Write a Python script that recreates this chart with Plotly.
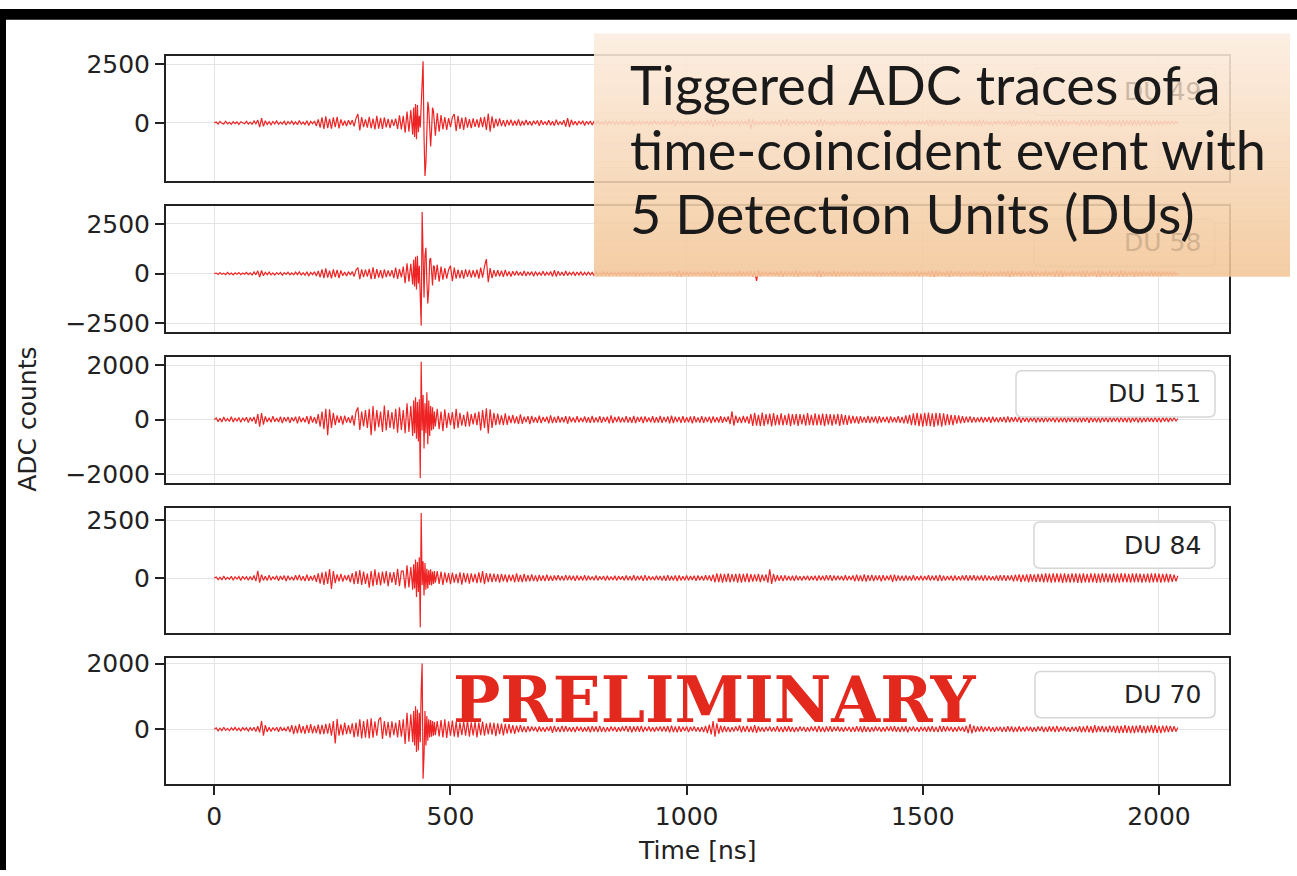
import numpy as np
import plotly.graph_objects as go

W, H = 1297, 876

# ---------------------------------------------------------------------------
# Data: ADC counts per detection unit.
# Samples are on a 4 ns grid before/after the pulse and a 2 ns grid around it.
# ---------------------------------------------------------------------------
PRE_START, PRE_STEP = 0, 4
PULSE_START, PULSE_STEP = 420, 2
POST_START, POST_STEP = 472, 4

du_labels = ["DU 49", "DU 58", "DU 151", "DU 84", "DU 70"]
y_ranges = [[-2490, 2855], [-2920, 3410], [-2340, 2300], [-2372, 3037], [-1667, 2159]]
y_ticks = [[0, 2500], [-2500, 0, 2500], [-2000, 0, 2000], [0, 2500], [0, 2000]]
x_ticks = [0, 500, 1000, 1500, 2000]
x_range = [-102.3, 2148.3]

du49_pre = [
    0, 35, -50, 60, -20, -45, 70, -40, 25, -65, 55, -30, 40, -70, 50, -15, -40, 65, -55, 30,
    -60, 80, -40, 120, -180, 200, -150, 90, -70, 50, -80, 60, -45, 85, -60, 30, -50, 70, -90, 55,
    -40, 75, -65, 45, -80, 100, -60, 35, -70, 90, -110, 60, -40, 80, -130, 150, -200, 240, -260, 280,
    -220, 170, -250, 230, -180, 260, -240, 150, -120, 90, -140, 110, -80, 120, -150, 200, 380, -320, 250, -180,
    150, -200, 260, -230, 180, -280, 300, -250, 210, -260, 240, -190, 170, -220, 150, -130, 180, -260, 320, -280,
    300, -420, 480, -380, 550]
du49_pulse = [
    -500, 650, -600, 800, -700, 760, -400, 300, -200, 750,
    1400, 2625, -600, -2260, -1700, 300, 900, 600, -700, -1010,
    -300, 650, 500, -350, -550]
du49_post = [
    420, -380, 330, -280, 250, -300, 200, -180, 240, 380, -350, 300, -260, 220, -300, 250, -200, 160, -220, 190,
    -170, 150, -200, 230, -180, 260, -300, 400, -380, 280, -220, 170, -150, 190, -140, 120, -160, 130, -100, 140,
    -120, 90, -110, 150, -130, 80, -100, 120, -90, 70, -110, 90, -60, 100, -130, 110, -80, 60, -90, 110,
    -100, 70, -120, 140, -90, 60, -80, 110, -160, 200, -180, 130, -90, 70, -100, 80, -60, 90, -110, 70,
    -50, 80, -90, 60, -70, 100, -80, 50, -60, 90, -100, 70, -40, 80, -90, 60, -70, 50, -80, 90,
    -60, 40, -70, 100, -120, 80, -50, 70, -90, 60, -40, 80, -100, 70, -60, 90, -80, 50, -70, 60,
    -90, 110, -70, 50, -80, 120, -140, 90, -60, 80, -110, 70, -50, 90, -100, 60, -80, 70, -60, 90,
    -80, 60, -100, 120, -90, 140, -170, 150, -120, 80, -60, 90, -110, 70, -50, 80, -90, 60, -70, 100,
    -120, 90, -60, 80, -100, 180, -260, 150, -110, 70, -90, 60, -80, 100, -70, 50, -90, 80, -60, 70,
    -80, 110, -140, 120, -90, 160, -130, 100, -70, 90, -110, 80, -60, 70, -100, 90, -50, 80, -70, 60,
    -90, 120, -150, 170, -140, 110, -80, 60, -100, 90, -120, 100, -70, 80, -60, 90, -110, 130, -100, 70,
    -80, 60, -90, 110, -130, 120, -100, 80, -60, 90, -70, 50, -80, 100, -90, 60, -70, 80, -100, 90,
    -60, 70, -110, 90, -70, 50, -80, 100, -120, 110, -90, 70, -60, 80, -100, 90, -70, 60, -80, 110,
    -130, 150, -140, 120, -100, 80, -90, 110, -130, 120, -80, 60, -90, 100, -70, 80, -110, 90, -60, 70,
    -100, 90, -80, 100, -110, 90, -120, 140, -130, 110, -80, 70, -90, 60, -100, 80, -70, 90, -60, 80,
    -90, 80, -100, 120, -140, 130, -110, 90, -80, 100, -70, 60, -90, 110, -120, 100, -80, 70, -60, 90,
    -120, 110, -90, 80, -100, 120, -130, 110, -140, 150, -130, 120, -100, 90, -110, 80, -70, 100, -90, 60,
    -130, 120, -100, 90, -110, 130, -150, 140, -120, 110, -100, 120, -90, 80, -110, 130, -140, 120, -100, 90,
    -100, 120, -140, 130, -110, 100, -90, 110, -130, 120, -110, 100, -120, 90, -80, 110, -100, 90, -120, 100,
    -110, 100, -90, 80, -100, 90, -70, 80, -60, 70, -50, 60, -30]

du58_pre = [
    0, 30, -45, 55, -35, 20, -50, 65, -40, 30, -60, 45, -25, 50, -55, 35, -30, 60, -45, 40,
    -70, 90, -60, 140, -170, 160, -110, 70, -50, 80, -60, 40, -70, 55, -35, 60, -80, 50, -40, 70,
    -55, 35, -60, 80, -50, 90, -70, 45, -80, 100, -120, 70, -50, 90, -120, 140, -180, 220, -230, 260,
    -200, 150, -240, 210, -170, 190, -230, 160, -110, 80, -120, 100, -70, 110, -140, 180, 300, -280, 220, -170,
    200, -150, 240, -280, 320, -260, 230, -200, 180, -240, 220, -170, 160, -140, 180, -220, 300, -260, 230, -190,
    350, -480, 520, -400, 500]
du58_pulse = [
    -550, 700, -650, 850, -800, 900, -500, 400, -900, -2620,
    3100, 600, -1200, 900, 1300, -400, -1500, -800, 700, 784,
    -300, -600, 400, 350, -300]
du58_post = [
    450, -400, 350, -300, 280, -250, 200, 400, -380, 300, -250, 200, -220, 180, -250, 210, -160, 190, -200, 170,
    -180, 200, -250, 300, -200, 350, 735, -430, 280, -220, 180, -150, 170, -130, 150, -160, 190, -120, 110, -140,
    120, -100, 130, -90, 80, -110, 140, -120, 90, -70, 100, -130, 110, -80, 60, -90, 120, -100, 70, -80,
    110, -140, 170, -150, 120, -90, 80, -110, 130, -100, 70, -60, 90, -110, 80, -70, 100, -90, 60, -80,
    90, -70, 60, -100, 110, -80, 50, -70, 90, -60, 80, -100, 70, -50, 60, -90, 100, -80, 70, -60,
    80, -100, 90, -70, 110, -120, 100, -80, 60, -90, 70, -50, 80, -100, 90, -70, 60, -80, 100, -90,
    70, -60, 90, -110, 120, -100, 80, -130, 150, -140, 110, -90, 70, -80, 100, -60, 50, -70, 90, -80,
    60, -90, 110, -100, 80, -120, 140, -130, 110, -90, 70, -60, 80, -100, 90, -70, 60, -80, 100, -110,
    130, -110, 90, -70, 80, -100, 120, -140, 110, -363, 160, -120, 100, -80, 90, -110, 80, -60, 70, -90,
    100, -120, 140, -130, 110, -90, 80, -70, 100, -120, 150, -140, 120, -100, 80, -90, 70, -60, 90, -100,
    110, -130, 160, -150, 120, -100, 90, -70, 80, -110, 130, -120, 100, -80, 70, -90, 110, -100, 80, -70,
    90, -110, 100, -80, 60, -90, 120, -110, 90, -70, 80, -100, 90, -60, 70, -80, 100, -90, 70, -60,
    80, -100, 120, -110, 90, -70, 60, -80, 100, -120, 110, -90, 80, -100, 130, -120, 100, -80, 70, -90,
    110, -130, 150, -160, 140, -120, 100, -90, 80, -110, 130, -140, 120, -100, 90, -80, 110, -120, 100, -90,
    80, -70, 90, -110, 120, -100, 80, -90, 110, -130, 140, -120, 100, -90, 80, -70, 90, -100, 110, -90,
    100, -120, 130, -150, 140, -110, 90, -80, 100, -120, 110, -90, 80, -100, 120, -130, 110, -90, 70, -80,
    100, -110, 130, -120, 100, -90, 110, -130, 150, -140, 160, -150, 130, -110, 90, -100, 120, -110, 90, -80,
    110, -130, 140, -150, 130, -120, 100, -110, 130, -150, 160, -140, 120, -110, 100, -120, 140, -130, 110, -100,
    120, -140, 150, -130, 110, -120, 100, -90, 110, -130, 140, -120, 100, -110, 120, -100, 90, -110, 130, -120,
    110, -100, 90, -110, 100, -80, 90, -70, 80, -60, 70, -50, 40]

du151_pre = [
    0, 60, -80, 50, -90, 100, -60, 40, -70, 110, -90, 60, -50, 80, -100, 70, -40, 90, -110, 80,
    -60, 100, -150, 200, -260, 240, -180, 120, -90, 70, -100, 130, -80, 60, -90, 110, -130, 90, -70, 100,
    -120, 80, -60, 110, -140, 120, -90, 70, -100, 130, -160, 140, -110, 90, -150, 200, -260, 300, -350, 400,
    -567, 380, -300, 250, -200, 160, -120, 140, -180, 150, -110, 90, -130, 160, -220, 280, 450, -380, 300, -250,
    350, -300, 400, -570, 500, -420, 350, -280, 300, -450, 520, -400, 350, -300, 280, -350, 400, -480, 450, -380,
    350, -500, 600, -450, 500]
du151_pulse = [
    -600, 700, -500, 825, -700, 650, -800, 750, -2145, 2124,
    -400, 900, -1054, 600, -500, 1007, -900, 700, -600, 500,
    -400, 450, -350, 300, -250]
du151_post = [
    400, -350, 300, -420, 380, -300, 250, -200, 280, -350, 400, -300, 250, -220, 180, -260, 300, -250, 200, -170,
    250, -200, 300, -400, 350, -300, 420, -510, 380, -300, 250, -200, 220, -180, 160, -200, 230, -190, 150, -130,
    170, -140, 120, -160, 190, -150, 110, -90, 130, -160, 140, -110, 90, -120, 150, -130, 100, -80, 110, -140,
    160, -130, 100, -120, 140, -110, 90, -100, 130, -150, 120, -90, 80, -110, 130, -100, 70, -90, 120, -110,
    90, -120, 140, -110, 80, -100, 130, -120, 100, -80, 110, -140, 160, -130, 100, -90, 120, -110, 80, -100,
    130, -110, 90, -120, 140, -130, 100, -80, 110, -130, 120, -90, 80, -100, 130, -120, 90, -110, 140, -120,
    100, -90, 120, -140, 150, -130, 110, -90, 100, -120, 130, -110, 90, -100, 120, -140, 130, -100, 80, -110,
    130, -120, 100, -90, 110, -130, 120, -100, 90, -110, 130, -120, 100, -80, 120, -160, 305, -220, 150, -120,
    100, -130, 140, -110, 120, -150, 200, -230, 250, -220, 180, -240, 260, -230, 200, -170, 220, -250, 240, -210,
    180, -200, 230, -210, 170, -190, 220, -240, 200, -180, 210, -230, 200, -170, 190, -220, 240, -200, 180, -210,
    230, -210, 190, -200, 220, -240, 210, -180, 200, -220, 190, -170, 210, -230, 200, -180, 170, -190, 160, -150,
    140, -130, 120, -150, 130, -110, 100, -120, 140, -130, 110, -100, 120, -140, 130, -110, 100, -90, 110, -130,
    120, -100, 90, -110, 130, -120, 100, -140, 160, -150, 180, -200, 230, -210, 250, -240, 220, -260, 250, -230,
    260, -240, 230, -270, 250, -220, 240, -260, 230, -210, 200, -190, 180, -200, 170, -150, 160, -140, 130, -120,
    110, -100, 120, -110, 90, -100, 80, -90, 100, -110, 90, -80, 100, -120, 110, -90, 80, -100, 90, -80,
    100, -110, 120, -100, 90, -80, 100, -90, 110, -120, 100, -80, 90, -100, 80, -70, 90, -110, 100, -90,
    80, -100, 110, -90, 80, -70, 90, -100, 110, -100, 80, -90, 100, -110, 90, -80, 100, -90, 80, -100,
    110, -100, 90, -80, 100, -120, 110, -90, 80, -100, 90, -110, 100, -80, 90, -100, 110, -90, 80, -70,
    90, -100, 110, -90, 80, -100, 120, -110, 90, -80, 100, -110, 90, -100, 80, -90, 100, -80, 70, -90,
    100, -90, 80, -100, 90, -70, 80, -90, 70, -60, 80, -50, 40]

du84_pre = [
    0, 50, -70, 40, -80, 90, -60, 30, -50, 80, -90, 60, -40, 70, -100, 80, -50, 60, -90, 70,
    -80, 110, -130, 310, -200, 150, -100, 80, -110, 130, -90, 70, -60, 100, -120, 90, -70, 110, -130, 100,
    -80, 60, -100, 120, -90, 140, -110, 80, -130, 150, -120, 90, -100, 130, -160, 200, -240, 250, -300, 280,
    -250, 390, -466, 300, -220, 160, -140, 180, -150, 120, -100, 140, -180, 220, -260, 300, -250, 350, -300, 280,
    -250, 200, -420, 300, -350, 380, -300, 250, -320, 280, -230, 300, -350, 250, -200, 260, -300, 400, -350, 300,
    300, -450, 550, -400, 480]
du84_pulse = [
    -500, 600, -450, 805, -818, 700, -600, 900, -2131, 2825,
    -300, 733, -750, 650, -500, 400, -450, 350, -300, 380,
    -320, 280, -250, 300, -200]
du84_post = [
    300, -250, 280, -300, 250, -200, 220, -260, 240, -200, 180, -220, 250, -280, 230, -190, 210, -240, 200, -170,
    180, -220, 250, -200, 300, -260, 220, -180, 200, -170, 190, -150, 170, -200, 180, -140, 160, -180, 150, -130,
    150, -180, 200, -160, 140, -170, 180, -150, 130, -140, 160, -130, 120, -150, 140, -120, 110, -130, 150, -120,
    100, -120, 110, -90, 120, -100, 90, -110, 130, -100, 110, -90, 100, -120, 110, -100, 90, -100, 120, -110,
    100, -80, 70, -90, 110, -100, 80, -70, 90, -110, 100, -90, 70, -80, 100, -110, 90, -70, 80, -100,
    110, -90, 80, -100, 120, -110, 90, -80, 100, -120, 130, -110, 90, -80, 70, -90, 100, -80, 90, -110,
    100, -120, 130, -110, 90, -100, 110, -130, 120, -100, 80, -90, 110, -100, 90, -80, 100, -120, 110, -90,
    90, -110, 120, -100, 110, -130, 150, -180, 200, -170, 190, -200, 180, -160, 200, -190, 170, -150, 180, -200,
    190, -200, 180, -160, 200, -190, 170, -150, 160, -140, 180, -170, 150, -130, 160, -200, 381, -250, 180, -150,
    130, -120, 110, -130, 120, -100, 90, -110, 100, -120, 110, -90, 80, -100, 90, -80, 100, -110, 90, -80,
    100, -120, 110, -90, 100, -110, 120, -100, 130, -120, 110, -90, 100, -80, 90, -110, 120, -100, 90, -80,
    110, -140, 150, -130, 120, -140, 160, -150, 130, -120, 140, -130, 110, -100, 120, -140, 130, -110, 100, -90,
    140, -160, 150, -130, 120, -110, 100, -120, 110, -100, 90, -110, 120, -100, 80, -90, 100, -110, 90, -80,
    120, -110, 100, -90, 110, -130, 140, -120, 100, -110, 90, -80, 100, -120, 110, -90, 80, -100, 110, -90,
    130, -120, 110, -100, 120, -110, 100, -90, 110, -120, 130, -110, 100, -90, 80, -100, 110, -120, 130, -110,
    130, -120, 110, -100, 120, -140, 150, -130, 160, -170, 150, -140, 160, -180, 170, -150, 160, -170, 180, -160,
    180, -190, 200, -180, 190, -200, 210, -190, 200, -180, 190, -210, 200, -190, 180, -200, 210, -190, 200, -210,
    190, -210, 200, -190, 180, -200, 210, -190, 200, -210, 190, -200, 210, -180, 200, -190, 180, -200, 210, -190,
    190, -200, 210, -180, 200, -190, 180, -200, 210, -190, 200, -180, 190, -200, 180, -170, 190, -200, 210, -190,
    200, -180, 190, -200, 180, -170, 190, -180, 170, -160, 150, -140, 100]

du70_pre = [
    0, 40, -55, 30, -45, 60, -35, 25, -50, 45, -30, 55, -40, 35, -60, 50, -25, 40, -55, 45,
    -35, 60, -70, 90, -100, 250, -200, 120, -80, 60, -70, 50, -40, 60, -80, 70, -50, 40, -60, 80,
    -90, 120, -150, 110, -130, 150, -120, 90, -140, 130, -110, 150, -130, 100, -120, 140, -160, 130, -150, 160,
    -140, 180, -200, 250, -438, 308, -200, 150, -180, 200, -150, 120, -140, 180, -250, 200, -230, 300, -280, 250,
    -260, 300, -280, 330, -260, 240, -200, 280, 358, -300, 250, -200, 220, -260, 240, -180, 200, -250, 280, -230,
    300, -450, 500, -380, 450]
du70_pulse = [
    -400, 550, -500, 700, -700, 600, -650, 500, -400, 1200,
    2000, -1512, -800, 550, -500, 400, -350, 300, -250, 280,
    -230, 250, -200, 220, -180]
du70_post = [
    250, -220, 280, -250, 300, -270, 240, -200, 260, -230, 220, -250, 200, -180, 230, -200, 260, -230, 210, -190,
    220, -250, 200, -180, 230, -200, 180, -160, 200, -170, 190, -210, 180, -150, 170, -190, 160, -140, 150, -130,
    120, -140, 110, -100, 120, -90, 80, -100, 90, -70, 80, -60, 70, -90, 80, -70, 60, -80, 70, -60,
    90, -110, 100, -80, 70, -90, 100, -80, 90, -70, 60, -80, 70, -90, 80, -60, 70, -80, 60, -70,
    80, -100, 90, -70, 80, -90, 100, -80, 70, -90, 60, -70, 80, -60, 70, -80, 60, -70, 80, -60,
    100, -80, 90, -100, 80, -70, 90, -80, 100, -90, 70, -60, 80, -70, 60, -80, 70, -60, 80, -70,
    80, -70, 90, -100, 110, -90, 80, -100, 90, -80, 70, -60, 80, -90, 70, -60, 80, -70, 60, -80,
    70, -90, 100, -120, 140, -160, 250, -230, 180, -140, 110, -100, 90, -80, 70, -90, 60, -70, 80, -60,
    110, -100, 90, -80, 100, -90, 80, -100, 120, -110, 80, -70, 60, -80, 70, -60, 80, -70, 60, -70,
    90, -80, 70, -90, 80, -70, 90, -80, 70, -90, 60, -70, 80, -60, 70, -80, 60, -70, 80, -60,
    80, -90, 100, -80, 70, -90, 80, -70, 90, -80, 70, -60, 80, -70, 60, -80, 70, -60, 70, -80,
    70, -80, 90, -70, 80, -100, 90, -80, 70, -90, 60, -70, 80, -60, 70, -80, 60, -70, 80, -60,
    80, -70, 90, -80, 70, -90, 80, -70, 90, -100, 70, -60, 80, -70, 60, -80, 70, -60, 70, -80,
    80, -70, 90, -80, 70, -90, 100, -80, 90, -70, 80, -60, 70, -80, 60, -70, 80, -60, 70, -80,
    100, -120, 150, -130, 110, -90, 80, -70, 90, -80, 70, -60, 80, -70, 60, -80, 70, -60, 70, -80,
    70, -80, 90, -70, 80, -90, 70, -80, 90, -70, 60, -70, 80, -60, 70, -80, 60, -70, 80, -60,
    80, -90, 70, -80, 90, -70, 80, -90, 100, -80, 70, -60, 80, -70, 60, -80, 70, -60, 70, -80,
    90, -100, 80, -90, 110, -100, 90, -110, 120, -100, 90, -80, 100, -90, 80, -100, 110, -90, 100, -110,
    110, -120, 100, -110, 120, -110, 100, -120, 110, -120, 110, -100, 120, -110, 100, -120, 110, -100, 120, -110,
    120, -110, 100, -120, 110, -100, 110, -90, 100, -80, 90, -70, 50]

traces_adc = [
    (du49_pre, du49_pulse, du49_post),
    (du58_pre, du58_pulse, du58_post),
    (du151_pre, du151_pulse, du151_post),
    (du84_pre, du84_pulse, du84_post),
    (du70_pre, du70_pulse, du70_post),
]


def assemble(pre, pulse, post):
    t = np.concatenate([
        PRE_START + PRE_STEP * np.arange(len(pre)),
        PULSE_START + PULSE_STEP * np.arange(len(pulse)),
        POST_START + POST_STEP * np.arange(len(post)),
    ])
    return t, np.array(pre + pulse + post, dtype=float)


# ---------------------------------------------------------------------------
# Layout geometry (pixels)
# ---------------------------------------------------------------------------
FRAME_X = (166, 1229)
FRAME_Y = [(47.7, 175.3), (200.3, 328.3), (354.0, 482.7), (507.7, 634.7), (660.7, 788.3)]

TRACE_COLOR = "#ee2424"
AXIS_COLOR = "#222222"
GRID_COLOR = "#e4e4e4"
TICK_FONT = dict(family="DejaVu Sans", size=25, color="#222222")


def px(x):
    return x / W


def py(y):
    return 1 - y / H


fig = go.Figure()
layout = dict(
    width=W, height=H,
    margin=dict(l=0, r=0, t=0, b=0),
    paper_bgcolor="white", plot_bgcolor="white",
    showlegend=False,
)

for i, (segs, label) in enumerate(zip(traces_adc, du_labels)):
    n = i + 1
    xa = "x" if n == 1 else f"x{n}"
    ya = "y" if n == 1 else f"y{n}"
    t, v = assemble(*segs)
    fig.add_trace(go.Scatter(
        x=t, y=v, mode="lines", name=label,
        line=dict(color=TRACE_COLOR, width=1.2),
        xaxis=xa, yaxis=ya, hoverinfo="skip",
    ))
    top, bot = FRAME_Y[i]
    last = n == len(du_labels)
    layout["xaxis" if n == 1 else f"xaxis{n}"] = dict(
        domain=[px(FRAME_X[0]), px(FRAME_X[1])],
        anchor=ya, range=x_range,
        tickvals=x_ticks, ticktext=[str(v_) for v_ in x_ticks],
        showticklabels=last, ticks="outside" if last else "",
        ticklen=9, tickwidth=1.5, tickcolor=AXIS_COLOR,
        tickfont=TICK_FONT,
        showline=True, linecolor=AXIS_COLOR, linewidth=2, mirror=True,
        showgrid=True, gridcolor=GRID_COLOR, gridwidth=1, zeroline=False,
        matches=None if n == 1 else "x",
    )
    layout["yaxis" if n == 1 else f"yaxis{n}"] = dict(
        domain=[py(bot), py(top)],
        anchor=xa, range=y_ranges[i],
        tickvals=y_ticks[i],
        ticks="outside", ticklen=9, tickwidth=1.5, tickcolor=AXIS_COLOR,
        tickfont=TICK_FONT,
        showline=True, linecolor=AXIS_COLOR, linewidth=2, mirror=True,
        showgrid=True, gridcolor=GRID_COLOR, gridwidth=1, zeroline=False,
    )

fig.update_layout(**layout)


def rounded_rect(x0, y0, x1, y1, r=6):
    # pixel box -> paper-coordinate SVG path with rounded corners
    X0, X1 = px(x0), px(x1)
    Y0, Y1 = py(y0), py(y1)
    rx, ry = r / W, r / H
    return (f"M {X0 + rx},{Y0} L {X1 - rx},{Y0} Q {X1},{Y0} {X1},{Y0 - ry} "
            f"L {X1},{Y1 + ry} Q {X1},{Y1} {X1 - rx},{Y1} "
            f"L {X0 + rx},{Y1} Q {X0},{Y1} {X0},{Y1 + ry} "
            f"L {X0},{Y0 - ry} Q {X0},{Y0} {X0 + rx},{Y0} Z")


shapes = []
annotations = []

# legend boxes, one per panel
legend_boxes = [(1034, 60, 1215, 108), (1034, 214, 1215, 262), (1016, 368, 1215, 415),
                (1034, 522, 1215, 569), (1035, 674, 1215, 721)]
legend_text_colors = ["#cdb8a6", "#d2b290", "#222222", "#222222", "#222222"]
for (x0, y0, x1, y1), label, col in zip(legend_boxes, du_labels, legend_text_colors):
    shapes.append(dict(type="path", path=rounded_rect(x0, y0, x1, y1),
                       xref="paper", yref="paper",
                       fillcolor="rgba(255,255,255,0.85)",
                       line=dict(color="#d6d6d6", width=1.5), layer="above"))
    annotations.append(dict(text=label, x=px(x1 - 12), y=py((y0 + y1) / 2),
                            xref="paper", yref="paper", xanchor="right", yanchor="middle",
                            showarrow=False,
                            font=dict(family="DejaVu Sans", size=25, color=col)))

# caption panel with a vertical peach gradient
BOX_X0, BOX_X1, BOX_Y0, BOX_Y1 = 594, 1290, 25, 272
c_top = np.array([251, 236, 222])
c_bot = np.array([243, 198, 152])
n_bands = 40
edges = np.linspace(BOX_Y0, BOX_Y1, n_bands + 1)
for k in range(n_bands):
    f = k / (n_bands - 1)
    c = (c_top * (1 - f) + c_bot * f).round().astype(int)
    shapes.append(dict(type="rect", xref="paper", yref="paper",
                       x0=px(BOX_X0), x1=px(BOX_X1),
                       y0=py(edges[k + 1] + 0.5), y1=py(edges[k]),
                       fillcolor=f"rgba({c[0]},{c[1]},{c[2]},0.88)",
                       line=dict(width=0), layer="above"))

caption_lines = ["Tiggered ADC traces of a", "time-coincident event with", "5 Detection Units (DUs)"]
for k, line in enumerate(caption_lines):
    annotations.append(dict(
        text=line, x=px(628), y=py(77 + 65.5 * k), xref="paper", yref="paper",
        xanchor="left", yanchor="middle", align="left", showarrow=False,
        font=dict(family="Lato", size=54, color="#1a1a1a"),
    ))

annotations.append(dict(
    text="<b>PRELIMINARY</b>", x=px(715), y=py(703), xref="paper", yref="paper",
    xanchor="center", yanchor="middle", showarrow=False,
    font=dict(family="DejaVu Serif", size=63, color="#e3281e"),
))

annotations.append(dict(
    text="ADC counts", x=px(28), y=py(418), xref="paper", yref="paper",
    xanchor="center", yanchor="middle", textangle=-90, showarrow=False,
    font=dict(family="DejaVu Sans", size=25, color="#222222"),
))
annotations.append(dict(
    text="Time [ns]", x=px(697), y=py(856), xref="paper", yref="paper",
    xanchor="center", yanchor="middle", showarrow=False,
    font=dict(family="DejaVu Sans", size=25, color="#222222"),
))

# dark border of the frame
shapes.append(dict(type="rect", xref="paper", yref="paper", x0=0, x1=1,
                   y0=py(11), y1=1, fillcolor="black", line=dict(width=0), layer="above"))
shapes.append(dict(type="rect", xref="paper", yref="paper", x0=0, x1=px(6),
                   y0=0, y1=1, fillcolor="black", line=dict(width=0), layer="above"))

fig.update_layout(shapes=shapes, annotations=annotations)
fig.write_html("out.html")
